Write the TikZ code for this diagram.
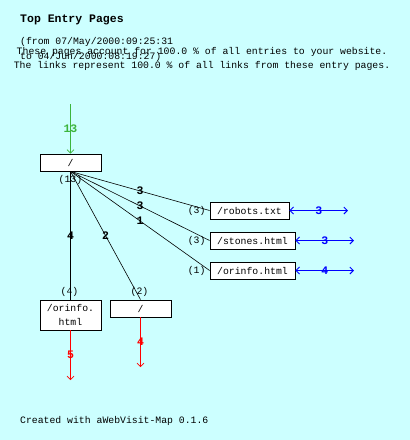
\documentclass[tikz,border=0pt]{standalone}
\usepackage{fontspec}
\setmonofont{Liberation Mono}
\usetikzlibrary{arrows.meta}
\definecolor{bgc}{HTML}{CCFFFF}
\definecolor{grn}{HTML}{3CB43C}
\definecolor{rd}{HTML}{FF0000}
\definecolor{bl}{HTML}{0000FF}
\begin{document}
\begin{tikzpicture}[x=1pt,y=-1pt,
  every node/.style={font=\ttfamily\fontsize{9.8}{13.3}\selectfont},
  page/.style={draw=black, fill=white, inner sep=0pt, line width=0.8pt, minimum height=17pt},
  cnt/.style={inner sep=0pt},
  wt/.style={inner sep=0pt, font=\ttfamily\bfseries\fontsize{11.5}{12}\selectfont},
  link/.style={draw=black, line width=0.6pt},
  tip/.style={-{Straight Barb[length=3.5pt,width=7pt]}},
  dtip/.style={{Straight Barb[length=3.5pt,width=7pt]}-{Straight Barb[length=3.5pt,width=7pt]}},
  txt/.style={inner sep=0pt, anchor=west}]
\fill[bgc] (0,0) rectangle (410,440);
\useasboundingbox (0,0) rectangle (410,440);
% header
\node[txt, font=\ttfamily\bfseries\fontsize{11.5}{12}\selectfont] (title) at (20,20) {Top Entry Pages};
\node[txt] (from) at (20,41.5) {(from 07/May/2000:09:25:31};
\node[txt] (to) at (20,57) {to 04/Jun/2000:08:19:27)};
\node[inner sep=0pt] (l1) at (202,51.7) {These pages account for 100.0 \% of all entries to your website.};
\node[inner sep=0pt] (l2) at (202,66) {The links represent 100.0 \% of all links from these entry pages.};
\node[txt] (credit) at (20,421) {Created with aWebVisit-Map 0.1.6};
% pages
\node[page, minimum width=61pt] (root) at (70.5,162.5) {/};
\node[page, minimum width=79pt] (robots) at (249.5,210.5) {/robots.txt};
\node[page, minimum width=85pt] (stones) at (252.5,240.5) {/stones.html};
\node[page, minimum width=85pt] (orinfo) at (252.5,270.5) {/orinfo.html};
\node[page, minimum width=61pt, minimum height=30pt, align=center] (orinfob) at (70.5,315) {/orinfo.\\html};
\node[page, minimum width=61pt] (slash) at (140.5,308.5) {/};
% counts
\node[cnt] (c13) at ([yshift=-8.5pt]root.south) {(13)};
\node[cnt, anchor=east] (c3a) at ([xshift=-4pt]robots.west) {(3)};
\node[cnt, anchor=east] (c3b) at ([xshift=-4pt]stones.west) {(3)};
\node[cnt, anchor=east] (c1) at ([xshift=-4pt]orinfo.west) {(1)};
\node[cnt] (c4) at ([xshift=-1pt,yshift=8pt]orinfob.north) {(4)};
\node[cnt] (c2) at ([xshift=-1pt,yshift=8pt]slash.north) {(2)};
% free ends
\coordinate (gs) at (70.5,104);
\coordinate (re1) at (70.5,380);
\coordinate (re2) at (140.5,367);
\coordinate (be1) at (348,210.5);
\coordinate (be2) at (354,240.5);
\coordinate (be3) at (354,270.5);
% links
\draw[link] (root.south) -- node[wt]{3} (robots.west);
\draw[link] (root.south) -- node[wt]{3} (stones.west);
\draw[link] (root.south) -- node[wt]{1} (orinfo.west);
\draw[link] (root.south) -- node[wt]{4} (orinfob.north);
\draw[link] (root.south) -- node[wt]{2} (slash.north);
% entry
\draw[grn, line width=0.7pt, tip] (gs) -- node[wt, text=grn]{13} (root.north);
% exits
\draw[rd, line width=0.7pt, tip] (orinfob.south) -- node[wt, text=rd]{5} (re1);
\draw[rd, line width=0.7pt, tip] (slash.south) -- node[wt, text=rd]{4} (re2);
% self / back
\draw[bl, line width=0.9pt, dtip] (robots.east) -- node[wt, text=bl]{3} (be1);
\draw[bl, line width=0.9pt, dtip] (stones.east) -- node[wt, text=bl]{3} (be2);
\draw[bl, line width=0.9pt, dtip] (orinfo.east) -- node[wt, text=bl]{4} (be3);
\end{tikzpicture}
\end{document}
